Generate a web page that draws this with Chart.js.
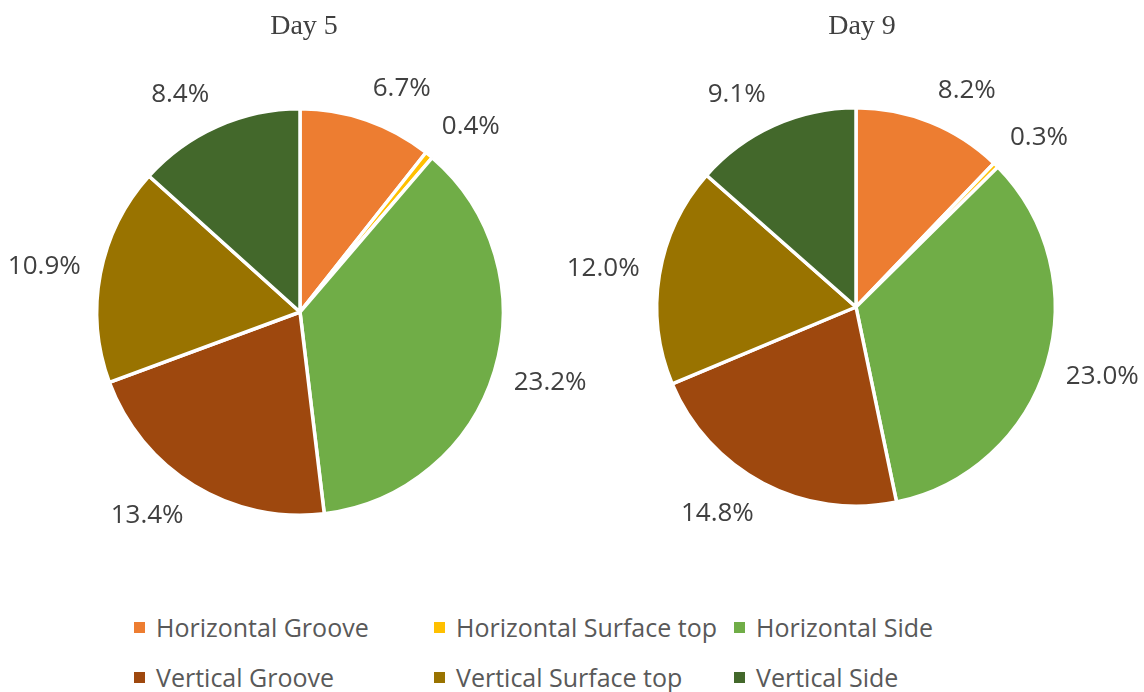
<!DOCTYPE html>
<html>
<head>
<meta charset="utf-8">
<title>Day 5 / Day 9</title>
<script src="https://cdn.jsdelivr.net/npm/chart.js@4.4.1/dist/chart.umd.min.js"></script>
<style>
  html, body { margin: 0; padding: 0; background: #fff; }
  #wrap { position: relative; width: 1144px; height: 692px; overflow: hidden; }
  #wrap canvas { position: absolute; top: 0; left: 0; }
  #legend {
    position: absolute; left: 134px; top: 607px;
    display: grid; grid-template-columns: 300px 300px 300px; grid-auto-rows: 50px;
    font-family: "Open Sans", sans-serif; font-size: 25px; color: #595959;
  }
  #legend .item { display: flex; align-items: center; white-space: nowrap; height: 40px; }
  #legend .box { width: 11px; height: 11px; margin-right: 11px; flex: none; }
</style>
</head>
<body>
<div id="wrap">
  <canvas id="day5Chart" width="1144" height="600"></canvas>
  <canvas id="day9Chart" width="1144" height="600"></canvas>
  <div id="legend"></div>
</div>
<script>
// categories and values per day
const categories = [
  "Horizontal Groove", "Horizontal Surface top", "Horizontal Side",
  "Vertical Groove", "Vertical Surface top", "Vertical Side"
];
const day5Values = [6.7, 0.4, 23.2, 13.4, 10.9, 8.4];
const day9Values = [8.2, 0.3, 23.0, 14.8, 12.0, 9.1];
const sliceColors = ["#ED7D31", "#FFC000", "#70AD47", "#9E480E", "#997300", "#43682B"];

// draws the title above each pie
const titlePlugin = {
  id: 'pieTitle',
  afterDraw(chart, args, opts) {
    const ctx = chart.ctx;
    const area = chart.chartArea;
    ctx.save();
    ctx.font = '28px "Liberation Serif", "Times New Roman", serif';
    ctx.fillStyle = '#404040';
    ctx.textAlign = 'center';
    ctx.textBaseline = 'middle';
    ctx.fillText(opts.text, (area.left + area.right) / 2 + opts.dx, 27);
    ctx.restore();
  }
};

// value labels placed just outside each slice, box corner at the anchor
const outsideLabels = {
  id: 'outsideLabels',
  afterDatasetsDraw(chart) {
    const ctx = chart.ctx;
    const meta = chart.getDatasetMeta(0);
    const values = chart.data.datasets[0].data;
    const clamp = v => Math.max(-1, Math.min(1, v));
    ctx.save();
    ctx.font = '26px "Open Sans", sans-serif';
    ctx.fillStyle = '#404040';
    ctx.textAlign = 'center';
    ctx.textBaseline = 'middle';
    meta.data.forEach((arc, i) => {
      const p = arc.getProps(['x', 'y', 'startAngle', 'endAngle', 'outerRadius'], true);
      const mid = (p.startAngle + p.endAngle) / 2;
      const dx = Math.cos(mid), dy = Math.sin(mid);
      const text = values[i].toFixed(1) + '%';
      const hw = ctx.measureText(text).width / 2;
      const hh = 13;
      const ax = p.x + dx * (p.outerRadius + 20);
      const ay = p.y + dy * (p.outerRadius + 20);
      ctx.fillText(text, ax + hw * clamp(dx * 3), ay + hh * clamp(dy * 1.5));
    });
    ctx.restore();
  }
};

function makePie(id, values, title, padding, dx) {
  return new Chart(document.getElementById(id), {
    type: 'pie',
    data: {
      labels: categories,
      datasets: [{
        data: values,
        backgroundColor: sliceColors,
        borderColor: '#ffffff',
        borderWidth: 3.5
      }]
    },
    options: {
      responsive: false,
      animation: false,
      layout: { padding: padding },
      plugins: {
        legend: { display: false },
        tooltip: { enabled: false },
        pieTitle: { text: title, dx: dx }
      }
    },
    plugins: [titlePlugin, outsideLabels]
  });
}

makePie('day5Chart', day5Values, 'Day 5', { left: 95, right: 639, top: 107, bottom: 83 }, 4);
makePie('day9Chart', day9Values, 'Day 9', { left: 655, right: 87, top: 105, bottom: 91 }, 6);

// shared legend
const legend = document.getElementById('legend');
categories.forEach((name, i) => {
  const item = document.createElement('div');
  item.className = 'item';
  const box = document.createElement('span');
  box.className = 'box';
  box.style.background = sliceColors[i];
  item.appendChild(box);
  item.appendChild(document.createTextNode(name));
  legend.appendChild(item);
});
</script>
</body>
</html>
